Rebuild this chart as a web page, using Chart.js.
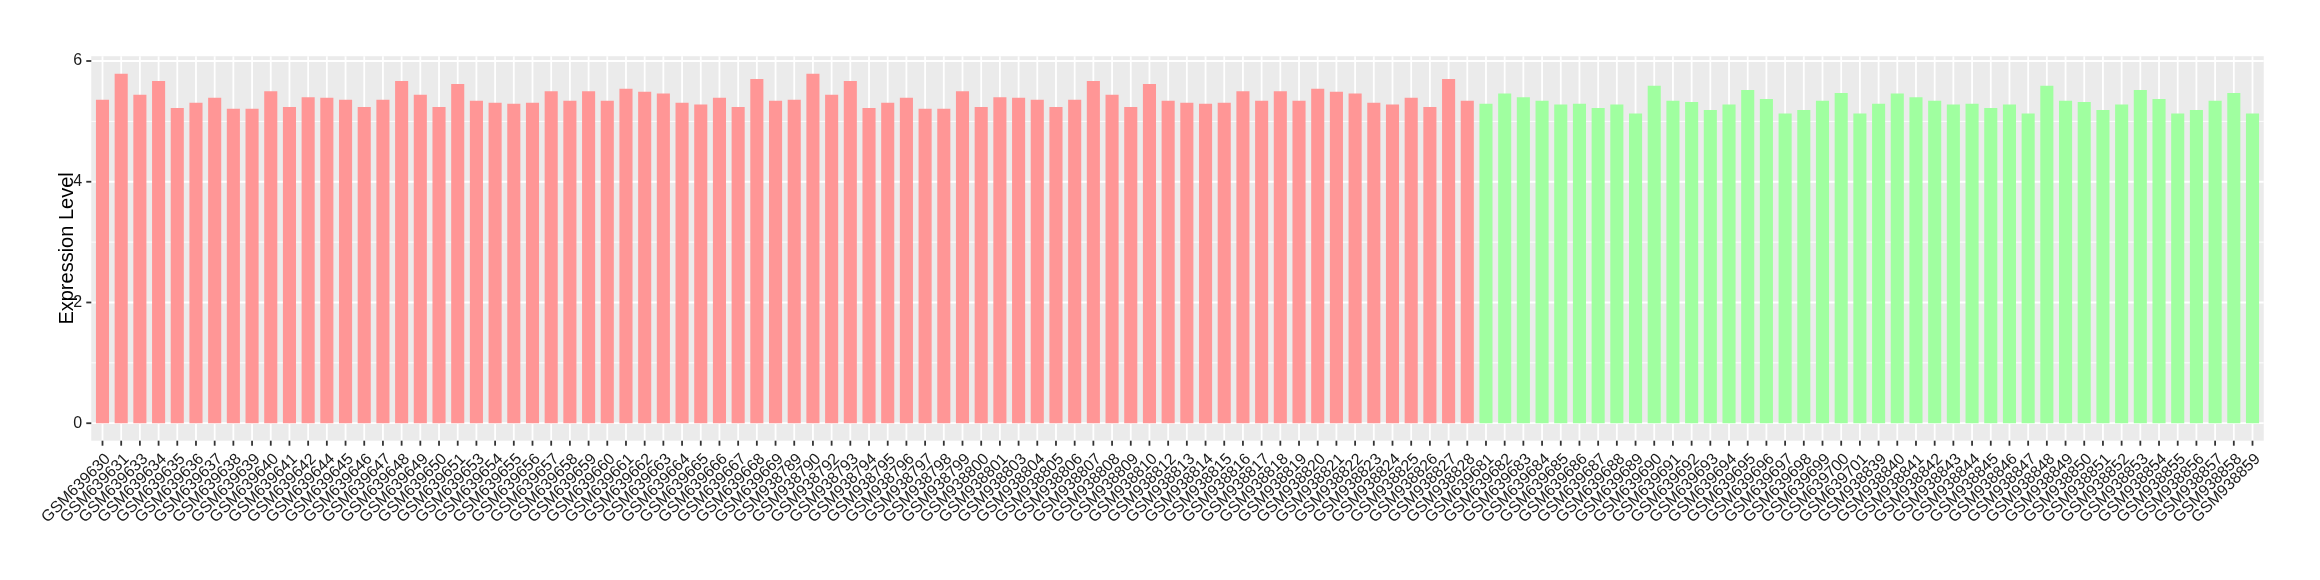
<!DOCTYPE html>
<html><head><meta charset="utf-8">
<script src="https://cdn.jsdelivr.net/npm/chart.js@4.4.1/dist/chart.umd.min.js"></script>
<style>html,body{margin:0;padding:0;background:#fff;}#wrap{width:2320px;height:580px;}</style>
</head><body><div id="wrap"><canvas id="c" width="2320" height="580"></canvas></div>
<script>
const redSamples = ['GSM639630','GSM639631','GSM639633','GSM639634','GSM639635','GSM639636','GSM639637','GSM639638','GSM639639','GSM639640','GSM639641','GSM639642','GSM639644','GSM639645','GSM639646','GSM639647','GSM639648','GSM639649','GSM639650','GSM639651','GSM639653','GSM639654','GSM639655','GSM639656','GSM639657','GSM639658','GSM639659','GSM639660','GSM639661','GSM639662','GSM639663','GSM639664','GSM639665','GSM639666','GSM639667','GSM639668','GSM639669',
'GSM938789','GSM938790','GSM938792','GSM938793','GSM938794','GSM938795','GSM938796','GSM938797','GSM938798','GSM938799','GSM938800','GSM938801','GSM938803','GSM938804','GSM938805','GSM938806','GSM938807','GSM938808','GSM938809','GSM938810','GSM938812','GSM938813','GSM938814','GSM938815','GSM938816','GSM938817','GSM938818','GSM938819','GSM938820','GSM938821','GSM938822','GSM938823','GSM938824','GSM938825','GSM938826','GSM938827','GSM938828'];
const redValues = [5.36,5.79,5.44,5.67,5.22,5.31,5.39,5.21,5.21,5.50,5.24,5.40,5.39,5.36,5.24,5.36,5.67,5.44,5.24,5.62,5.34,5.31,5.29,5.31,5.50,5.34,5.50,5.34,5.54,5.49,5.46,5.31,5.28,5.39,5.24,5.70,5.34,
5.36,5.79,5.44,5.67,5.22,5.31,5.39,5.21,5.21,5.50,5.24,5.40,5.39,5.36,5.24,5.36,5.67,5.44,5.24,5.62,5.34,5.31,5.29,5.31,5.50,5.34,5.50,5.34,5.54,5.49,5.46,5.31,5.28,5.39,5.24,5.70,5.34];
const greenSamples = ['GSM639681','GSM639682','GSM639683','GSM639684','GSM639685','GSM639686','GSM639687','GSM639688','GSM639689','GSM639690','GSM639691','GSM639692','GSM639693','GSM639694','GSM639695','GSM639696','GSM639697','GSM639698','GSM639699','GSM639700','GSM639701',
'GSM938839','GSM938840','GSM938841','GSM938842','GSM938843','GSM938844','GSM938845','GSM938846','GSM938847','GSM938848','GSM938849','GSM938850','GSM938851','GSM938852','GSM938853','GSM938854','GSM938855','GSM938856','GSM938857','GSM938858','GSM938859'];
const greenValues = [5.29,5.46,5.40,5.34,5.28,5.29,5.22,5.28,5.13,5.59,5.34,5.32,5.19,5.28,5.52,5.37,5.13,5.19,5.34,5.47,5.13,
5.29,5.46,5.40,5.34,5.28,5.29,5.22,5.28,5.13,5.59,5.34,5.32,5.19,5.28,5.52,5.37,5.13,5.19,5.34,5.47,5.13];
const yTicks = [0, 2, 4, 6];
const yMinorTicks = [1, 3, 5];
const yTitle = 'Expression Level';
const redColor = '#FF9696';
const greenColor = '#A0FFA0';

const labels = redSamples.concat(greenSamples);
const values = redValues.concat(greenValues);
const colors = redSamples.map(() => redColor).concat(greenSamples.map(() => greenColor));
const vMax = Math.max(...values);
const yLo = -0.05 * vMax, yHi = vMax * 1.05;

const FONT = "'Liberation Sans', Arial, sans-serif";

const panelPlugin = {
  id: 'panel',
  beforeDatasetsDraw(chart) {
    const {ctx, chartArea: a, scales: {x, y}} = chart;
    const unit = x.getPixelForValue(1) - x.getPixelForValue(0);
    const left = x.getPixelForValue(0) - 0.6 * unit;
    const right = x.getPixelForValue(labels.length - 1) + 0.6 * unit;
    const top = a.top, bottom = a.bottom;
    const line = (x1, y1, x2, y2) => { ctx.beginPath(); ctx.moveTo(x1, y1); ctx.lineTo(x2, y2); ctx.stroke(); };
    ctx.save();
    ctx.fillStyle = '#EBEBEB';
    ctx.fillRect(left, top, right - left, bottom - top);
    ctx.strokeStyle = '#FFFFFF';
    ctx.lineWidth = 0.9;
    yMinorTicks.forEach(v => { const p = y.getPixelForValue(v); line(left, p, right, p); });
    ctx.lineWidth = 1.8;
    yTicks.forEach(v => { const p = y.getPixelForValue(v); line(left, p, right, p); });
    labels.forEach((_, i) => { const p = x.getPixelForValue(i); line(p, top, p, bottom); });
    ctx.strokeStyle = '#333333';
    yTicks.forEach(v => { const p = y.getPixelForValue(v); line(left - 5, p, left, p); });
    labels.forEach((_, i) => { const p = x.getPixelForValue(i); line(p, bottom, p, bottom + 5); });
    ctx.restore();
  }
};

new Chart(document.getElementById('c'), {
  type: 'bar',
  data: {
    labels: labels,
    datasets: [{ data: values, backgroundColor: colors, borderWidth: 0, barPercentage: 0.7, categoryPercentage: 1.0 }]
  },
  options: {
    responsive: false,
    animation: false,
    events: [],
    layout: { padding: { top: 56.2, right: 58.15, left: 0, bottom: 0 } },
    plugins: { legend: { display: false }, tooltip: { enabled: false } },
    scales: {
      x: {
        type: 'category',
        offset: true,
        grid: { display: false, drawTicks: false },
        border: { display: false },
        ticks: {
          autoSkip: false, maxRotation: 45, minRotation: 45, padding: 9,
          labelOffset: 5.5,
          color: '#1A1A1A', font: { family: FONT, size: 16 }
        },
        afterFit: s => { s.height = 580 - 440.7; }
      },
      y: {
        min: yLo, max: yHi,
        grid: { display: false, drawTicks: false },
        border: { display: false },
        afterBuildTicks: s => { s.ticks = yTicks.map(v => ({ value: v })); },
        ticks: { padding: 11, color: '#1A1A1A', font: { family: FONT, size: 16 } },
        title: { display: true, text: yTitle, color: '#000000', font: { family: FONT, size: 20 }, padding: { top: 55, bottom: 0 } },
        afterFit: s => { s.width = 93.15; }
      }
    }
  },
  plugins: [panelPlugin]
});
</script>
</body></html>
